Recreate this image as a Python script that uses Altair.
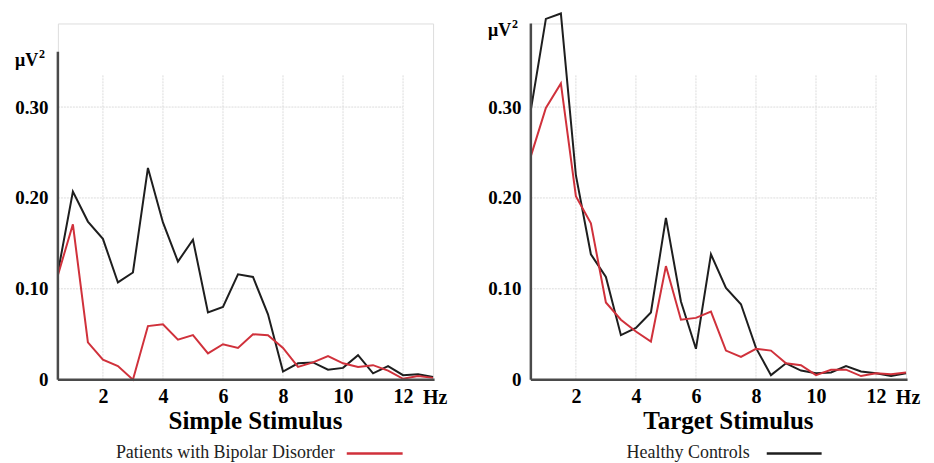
import altair as alt
import pandas as pd

# ---------------- data ----------------
freqs = [0.5, 1.0, 1.5, 2.0, 2.5, 3.0, 3.5, 4.0, 4.5, 5.0, 5.5, 6.0, 6.5,
         7.0, 7.5, 8.0, 8.5, 9.0, 9.5, 10.0, 10.5, 11.0, 11.5, 12.0, 12.5, 13.0]

simple_healthy = [0.118, 0.207, 0.174, 0.155, 0.107, 0.118, 0.233, 0.173, 0.130,
                  0.154, 0.074, 0.080, 0.116, 0.113, 0.072, 0.009, 0.018, 0.019,
                  0.011, 0.013, 0.027, 0.007, 0.015, 0.005, 0.006, 0.003]
simple_bipolar = [0.115, 0.171, 0.041, 0.022, 0.015, 0.000, 0.059, 0.061, 0.044,
                  0.049, 0.029, 0.039, 0.035, 0.050, 0.049, 0.035, 0.014, 0.019,
                  0.026, 0.018, 0.014, 0.016, 0.010, 0.001, 0.004, 0.002]
target_healthy = [0.297, 0.397, 0.403, 0.225, 0.138, 0.113, 0.049, 0.057, 0.074,
                  0.178, 0.086, 0.034, 0.138, 0.101, 0.083, 0.035, 0.005, 0.018,
                  0.010, 0.007, 0.008, 0.015, 0.009, 0.007, 0.004, 0.007]
target_bipolar = [0.246, 0.299, 0.326, 0.202, 0.172, 0.085, 0.066, 0.053, 0.042,
                  0.125, 0.066, 0.068, 0.075, 0.032, 0.025, 0.034, 0.032, 0.018,
                  0.016, 0.005, 0.011, 0.011, 0.004, 0.007, 0.006, 0.008]

groups = ["Healthy Controls", "Patients with Bipolar Disorder"]
x_ticks = [2, 4, 6, 8, 10, 12]
y_ticks = [0, 0.1, 0.2, 0.3]
grid_x = [2, 4, 6, 8, 10, 12]
grid_y = [0.1, 0.2, 0.3]
titles = ["Simple Stimulus", "Target Stimulus"]

# ---------------- styling ----------------
FONT = "Liberation Serif"
W, H = 376, 357
XDOM = [0.5, 13]
YDOM = [0, 0.392]
RED = "#d0313b"
BLACK = "#1e1e1e"
AXIS_COLOR = "#4a4a4a"
GRID_COLOR = "#dcdcdc"

xscale = alt.Scale(domain=XDOM, nice=False, zero=False)
yscale = alt.Scale(domain=YDOM, nice=False, zero=True)

legend_pos = {
    "Patients with Bipolar Disorder": (277.5, 289.5, 345.5),
    "Healthy Controls": (219.4, 236.4, 291.4),
}


def panel(healthy, bipolar, title, legend_label, legend_color, axis_top, unit_y):
    df = pd.DataFrame({
        "Hz": freqs + freqs,
        "power": healthy + bipolar,
        "group": [groups[0]] * len(freqs) + [groups[1]] * len(freqs),
    })
    x_enc = alt.X("Hz:Q", scale=xscale,
                  axis=alt.Axis(values=x_ticks, grid=False, domain=False, ticks=False,
                                labelFont=FONT, labelFontSize=20, labelFontWeight="bold",
                                labelColor="black", labelPadding=7, title=None))
    y_enc = alt.Y("power:Q", scale=yscale,
                  axis=alt.Axis(values=y_ticks, grid=False, domain=False, ticks=False,
                                labelExpr="datum.value == 0 ? '0' : format(datum.value, '.2f')",
                                labelFont=FONT, labelFontSize=19, labelFontWeight="bold",
                                labelColor="black", labelPadding=10, title=None))

    vgrid = alt.Chart(pd.DataFrame({"gx": grid_x})).mark_rule(
        color=GRID_COLOR, strokeWidth=1, strokeDash=[2, 1]
    ).encode(x=alt.X("gx:Q", scale=xscale), y=alt.datum(0), y2=alt.datum(0.336))

    hgrid = alt.Chart(pd.DataFrame({"gy": grid_y})).mark_rule(
        color=GRID_COLOR, strokeWidth=1, strokeDash=[2, 1]
    ).encode(y=alt.Y("gy:Q", scale=yscale), x=alt.datum(0.5), x2=alt.datum(12))

    lines = alt.Chart(df).mark_line(strokeWidth=2).encode(
        x=x_enc, y=y_enc,
        color=alt.Color("group:N", scale=alt.Scale(domain=groups, range=[BLACK, RED]),
                        legend=None),
    )

    yaxis_line = alt.Chart(pd.DataFrame({"a": [0]})).mark_rule(
        color=AXIS_COLOR, strokeWidth=2.5
    ).encode(x=alt.datum(0.5), y=alt.datum(0), y2=alt.datum(axis_top))

    xaxis_line = alt.Chart(pd.DataFrame({"a": [0]})).mark_rule(
        color=AXIS_COLOR, strokeWidth=2.5
    ).encode(y=alt.datum(0), x=alt.datum(0.5), x2=alt.datum(13.05))

    unit = alt.Chart(pd.DataFrame({"t": ["μV"]})).mark_text(
        font=FONT, fontSize=18, fontWeight="bold", align="left", baseline="alphabetic",
        dx=-43, color="black"
    ).encode(text="t:N", x=alt.datum(0.5), y=alt.datum(unit_y))

    unit_sup = alt.Chart(pd.DataFrame({"t": ["2"]})).mark_text(
        font=FONT, fontSize=12, fontWeight="bold", align="left", baseline="alphabetic",
        dx=-19, dy=-8, color="black"
    ).encode(text="t:N", x=alt.datum(0.5), y=alt.datum(unit_y))

    hz = alt.Chart(pd.DataFrame({"t": ["Hz"]})).mark_text(
        font=FONT, fontSize=20, fontWeight="bold", align="center", baseline="alphabetic",
        dx=2, color="black"
    ).encode(text="t:N", x=alt.datum(13), y=alt.value(H + 24))

    ttl = alt.Chart(pd.DataFrame({"t": [title]})).mark_text(
        font=FONT, fontSize=25, fontWeight="bold", align="center", baseline="alphabetic",
        color="black"
    ).encode(text="t:N", x=alt.value(198), y=alt.value(H + 49))

    leg_text = alt.Chart(pd.DataFrame({"t": [legend_label]})).mark_text(
        font=FONT, fontSize=18, align="right", baseline="alphabetic", color="#222"
    ).encode(text="t:N", x=alt.value(legend_pos[legend_label][0]), y=alt.value(H + 78))

    leg_line = alt.Chart(pd.DataFrame({"a": [0]})).mark_rule(
        color=legend_color, strokeWidth=2.5
    ).encode(x=alt.value(legend_pos[legend_label][1]),
             x2=alt.value(legend_pos[legend_label][2]),
             y=alt.value(H + 74))

    return alt.layer(vgrid, hgrid, lines, yaxis_line, xaxis_line, unit, unit_sup, hz,
                     ttl, leg_text, leg_line).properties(width=W, height=H)


left = panel(simple_healthy, simple_bipolar, titles[0],
             "Patients with Bipolar Disorder", RED, 0.361, 0.345)
right = panel(target_healthy, target_bipolar, titles[1],
              "Healthy Controls", BLACK, 0.392, 0.378)

chart = alt.HConcatChart(hconcat=[left, right], spacing=98, bounds="flush").properties(
    padding={"left": 6, "top": 0, "right": 5, "bottom": 0}
).configure_view(stroke=None).configure(background="white")

chart.save("out.html", embed_options={"renderer": "svg", "actions": False})
